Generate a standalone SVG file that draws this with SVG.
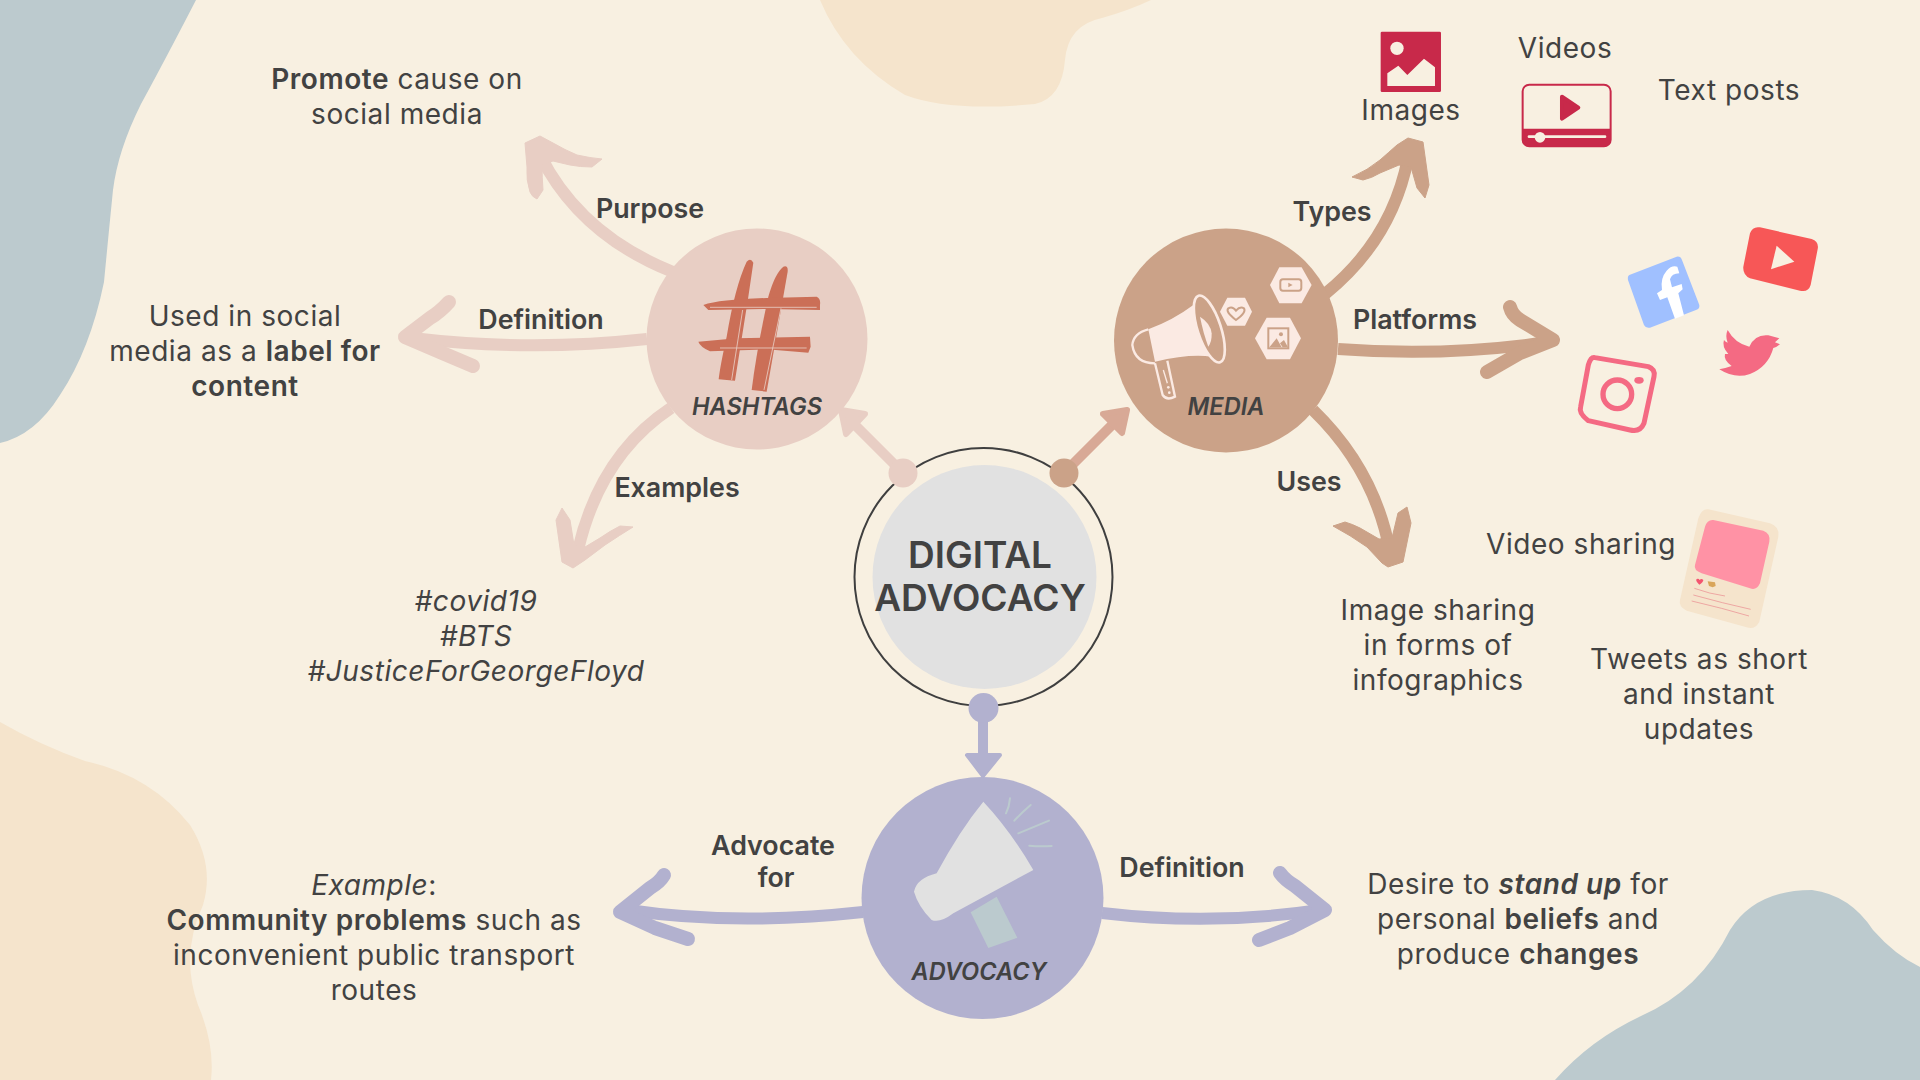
<svg xmlns="http://www.w3.org/2000/svg" width="1920" height="1080" viewBox="0 0 1920 1080">
<style>
text{font-family:"Inter","Noto Sans","Liberation Sans",sans-serif;fill:#424242;text-anchor:middle}
.t{font-size:28px;font-weight:400;letter-spacing:.55px}
.l{font-size:26.8px;font-weight:600}
.b{font-weight:600}
.i{font-style:italic}
.n{font-size:23.6px;font-weight:600;font-style:italic}
.a{fill:none;stroke-width:12;stroke-linecap:butt;stroke-linejoin:round}
.h{fill:none;stroke-width:14;stroke-linecap:round;stroke-linejoin:round}
.pk{stroke:#e8cec4}.br{stroke:#cba288}.pu{stroke:#b2b1cf}
.fpk{fill:#e8cec4;stroke:#e8cec4;stroke-width:1;stroke-linejoin:round}
.fbr{fill:#cba288;stroke:#cba288;stroke-width:1;stroke-linejoin:round}
</style>
<rect width="1920" height="1080" fill="#f8f0e1"/>
<g id="background">
<path d="M0 0H196Q165 60 141 104Q118 150 113 190Q108 240 104 282Q90 350 60 395Q35 435 0 443Z" fill="#bccace"/>
<path d="M820 0Q845 60 905 95Q950 112 1035 104Q1062 98 1065 60Q1068 25 1102 18Q1130 10 1151 0Z" fill="#f5e4cc"/>
<path d="M0 722Q40 745 85 761Q150 775 190 825Q215 865 203 905Q180 955 198 1005Q215 1045 211 1080H0Z" fill="#f5e4cc"/>
<path d="M1555 1080Q1590 1040 1641 1016Q1700 990 1730 930Q1755 890 1812 890Q1850 895 1873 930Q1895 955 1920 967V1080Z" fill="#bccace"/>
</g>
<g id="connectors">
<path class="a pk" d="M673 272Q580 235 540 155"/>
<path class="fpk" d="M525 143L540 136L553 143Q565 150 577 155Q590 158 602 159L592 167Q580 167 570 165L553 161L542 165Q542 178 543 190L537 199Q532 197 530 192Q526 180 527 167Z"/>
<path class="a pk" d="M647 339Q530 352 412 338"/><path class="h pk" d="M449 302Q440 312 430 318L405 337L440 352L473 366"/>
<path class="a pk" d="M671 408Q600 455 578 550"/>
<path class="fpk" d="M633 527L620 526Q610 531 600 538L585 547L574 545L570 520L562 508L556 520L562 562L573 568L585 560L605 545Q620 535 633 527Z"/>
<path d="M903 473L855 425" stroke="#e8cec4" stroke-width="10" fill="none"/>
<path d="M841 410L865 414L846 434Z" fill="#e8cec4" stroke="#e8cec4" stroke-width="6" stroke-linejoin="round"/>
<path class="a br" d="M1325 294Q1392 240 1408 158"/>
<path class="fbr" d="M1352 177L1363 180Q1372 178 1380 173L1399 165L1411 167L1417 188L1425 198L1429 185L1423 142L1408 138L1397 145Q1388 153 1380 160Q1368 170 1352 177Z"/>
<path class="a br" d="M1338 349Q1445 357 1548 342"/><path class="h br" d="M1510 307Q1512 315 1520 320L1553 340L1520 353L1487 372"/>
<path class="a br" d="M1313 410Q1375 470 1390 552"/>
<path class="fbr" d="M1333 526L1345 522Q1352 524 1360 528L1379 539L1392 538L1398 513L1407 507L1411 523L1403 562L1388 567L1382 563L1367 547Q1350 535 1333 526Z"/>
<path d="M1064 473L1112 425" stroke="#d8a996" stroke-width="10" fill="none"/>
<path d="M1127 410L1103 414L1122 433Z" fill="#d8a996" stroke="#d8a996" stroke-width="6" stroke-linejoin="round"/>
<path class="a pu" d="M863 912Q735 926 628 910"/><path class="h pu" d="M664 875Q660 882 650 888L620 912L655 928L688 939"/>
<path class="a pu" d="M1102 913Q1212 926 1320 910"/><path class="h pu" d="M1280 873Q1285 880 1295 886L1325 910L1290 928L1259 940"/>
<path d="M983 708V755" stroke="#b2b1cf" stroke-width="10" fill="none"/>
<path d="M967 755H1000L983 776Z" fill="#b2b1cf" stroke="#b2b1cf" stroke-width="4" stroke-linejoin="round"/>
</g>
<g id="center">
<circle cx="983.500" cy="577" r="129" fill="none" stroke="#3f3f3f" stroke-width="2"/>
<circle cx="984.500" cy="577" r="112" fill="#e1e1e1"/>
<text x="980" y="568" font-size="37" font-weight="600">DIGITAL</text>
<text x="980" y="611" font-size="37" font-weight="600">ADVOCACY</text>
<circle cx="903" cy="473" r="14.500" fill="#e8cec4"/>
<circle cx="1064" cy="473" r="14.500" fill="#cba288"/>
<circle cx="983.500" cy="708" r="15" fill="#b2b1cf"/>
</g>
<g id="hashtags">
<circle cx="757" cy="339" r="110.500" fill="#e8cec4"/>
<g transform="translate(620 210) scale(.3333)" fill="#cb6f57">
<path d="M380 155Q392 142 400 158L385 260L345 512L296 508Q300 470 320 380Q345 230 380 155Z"/>
<path d="M490 170Q505 165 503 185L440 545L395 540Q410 420 445 260Q465 190 490 170Z"/>
<path d="M250 285Q300 268 440 264L590 260Q603 265 600 285L600 300L440 297L265 300Z"/>
<path d="M235 395L350 385L570 380L572 410L565 428L440 418L270 424Q240 410 235 395Z"/>
<path d="M368 300L335 510M483 295L432 540M270 292H590M300 414H560" stroke="#e8cec4" stroke-width="2.500" fill="none"/>
</g>
<text class="n" x="757" y="415">HASHTAGS</text>
</g>
<g id="media">
<circle cx="1226" cy="340.500" r="112" fill="#cba288"/>
<g transform="translate(1080 200) scale(.3333)">
<path d="M205 388Q280 360 340 315Q370 350 385 400Q395 440 395 470Q330 460 225 485Z" fill="#fbeae3"/>
<path d="M205 388Q160 400 157 435Q165 490 225 490" fill="none" stroke="#fbeae3" stroke-width="7"/>
<ellipse cx="388" cy="387" rx="35" ry="105" transform="rotate(-18 388 387)" fill="#cba288" stroke="#fbeae3" stroke-width="8"/>
<path d="M360 350Q392 370 395 400Q396 425 385 440Q370 400 360 350Z" fill="#fbeae3"/>
<path d="M225 490L248 585Q260 603 285 590L262 482" fill="none" stroke="#fbeae3" stroke-width="7"/>
<path d="M250 510L262 550" stroke="#fbeae3" stroke-width="4"/><circle cx="265" cy="562" r="4" fill="#fbeae3"/><circle cx="268" cy="578" r="4" fill="#fbeae3"/>
<g fill="#fbeae3">
<polygon points="570,255 598,202 665,202 695,255 665,310 598,310"/>
<polygon points="420,335 442,293 495,293 516,335 495,377 442,377"/>
<polygon points="525,415 560,353 630,353 663,415 630,478 560,478"/>
</g>
<rect x="601" y="238" width="63" height="34" rx="8" fill="none" stroke="#cba288" stroke-width="6"/>
<path d="M625 248L638 255L625 262Z" fill="#cba288"/>
<path d="M468 360Q435 335 445 325Q458 318 468 332Q480 318 492 325Q500 338 468 360Z" fill="none" stroke="#cba288" stroke-width="6"/>
<rect x="565" y="385" width="60" height="60" fill="none" stroke="#cba288" stroke-width="6"/>
<circle cx="603" cy="403" r="6" fill="#cba288"/><path d="M568 442L590 415L605 442ZM600 430L612 420L624 442H608Z" fill="#cba288"/>
</g>
<text class="n" x="1226" y="415">MEDIA</text>
</g>
<g id="advocacy">
<circle cx="982.500" cy="898" r="121" fill="#b2b1cf"/>
<g transform="translate(840 760) scale(.3333)">
<path d="M430 125Q510 210 580 330L340 460Q300 490 275 480Q235 440 222 395Q230 355 290 340Q360 210 430 125Z" fill="#e1e1e1"/>
<polygon points="392,457 470,410 532,533 445,564" fill="#bbcace"/>
<path d="M498 160Q508 140 510 115M523 182Q545 158 572 135M535 220L627 182M568 257Q600 260 635 258" fill="none" stroke="#bbcace" stroke-width="6" stroke-linecap="round"/>
</g>
<text class="n" x="979" y="980">ADVOCACY</text>
</g>
<g id="icon-images" transform="translate(1330 10) scale(.3333)">
<rect x="152" y="65" width="181" height="181" rx="4" fill="#c8294a"/>
<circle cx="201" cy="115" r="20" fill="#f8f0e1"/>
<polygon points="172,228 172,190 205,167 232,195 282,146 315,172 315,228" fill="#f8f0e1"/>
</g>
<g id="icon-video" transform="translate(1330 10) scale(.3333)">
<rect x="578" y="224" width="264" height="185" rx="20" fill="#f8f0e1" stroke="#c8294a" stroke-width="6"/>
<path d="M578 356H842V390Q842 409 822 409H598Q578 409 578 390Z" fill="#c8294a"/>
<path d="M696 260L745 293L696 326Z" fill="#c8294a" stroke="#c8294a" stroke-width="12" stroke-linejoin="round"/>
<path d="M597 380H825" stroke="#f8f0e1" stroke-width="8" stroke-linecap="round"/>
<circle cx="630" cy="382" r="16" fill="#f8f0e1"/>
</g>
<g id="icon-social" transform="translate(1560 210) scale(.3333)">
<path d="M600 52L755 87Q778 95 773 118L752 225Q745 248 720 242L570 205Q548 195 550 170L570 70Q578 48 600 52Z" fill="#f75757"/>
<polygon points="650,107 703,155 633,178" fill="#f8f0e1"/>
<path d="M208 195L350 140Q362 138 366 150L418 285Q420 297 408 300L270 353Q258 356 252 345L204 210Q202 198 208 195Z" fill="#a0c0ff"/>
<path d="M320 182Q335 165 352 170L358 190Q335 190 330 208L336 232L365 222L368 238L355 250L372 316L345 326L322 262L300 270L291 250L306 240Q300 205 320 182Z" fill="#fff"/>
<path d="M503 360Q525 400 568 410Q585 372 625 376L658 385L645 397L660 403Q650 412 640 414Q625 470 570 492Q525 508 478 478Q495 475 515 468Q490 450 495 432L505 432Q485 410 492 390Q495 395 503 398Q495 378 503 360Z" fill="#f46a83"/>
<path d="M105 443L265 470Q287 478 282 500L252 640Q240 668 210 660L85 632Q55 610 62 590L85 465Q92 440 105 443Z" fill="none" stroke="#f46a83" stroke-width="15" stroke-linejoin="round"/>
<circle cx="172" cy="553" r="43" fill="none" stroke="#f46a83" stroke-width="16"/>
<ellipse cx="237" cy="511" rx="14" ry="10" fill="#f46a83"/>
</g>
<g id="icon-tweet" transform="translate(1660 490) scale(.3333)">
<path d="M145 58L330 100Q360 110 355 140L298 395Q285 420 260 412L80 362Q55 350 60 330L115 85Q125 55 145 58Z" fill="#f5e4cc"/>
<path d="M160 90L310 122Q332 130 328 155L300 280Q290 302 270 295L125 250Q100 240 105 225L135 110Q142 88 160 90Z" fill="#ff92a5"/>
<path d="M118 284Q105 272 110 267Q116 264 119 270Q124 264 130 270Q130 276 118 284Z" fill="#f4546f"/>
<path d="M143 274L165 277L167 288L158 292L147 288Z" fill="#d9a55a"/>
<path d="M103 295Q150 312 195 318M100 315Q190 340 272 358M95 333Q190 355 267 378" fill="none" stroke="#ec9a9a" stroke-width="2.500"/>
</g>
<g id="text-hashtags">
<text class="t" x="397" y="89"><tspan class="b">Promote</tspan> cause on</text>
<text class="t" x="397" y="124">social media</text>
<text class="l" x="650" y="218">Purpose</text>
<text class="l" x="541" y="329">Definition</text>
<text class="t" x="245" y="326">Used in social</text>
<text class="t" x="245" y="361">media as a <tspan class="b">label for</tspan></text>
<text class="t b" x="245" y="396">content</text>
<text class="l" x="677" y="497">Examples</text>
<text class="t i" x="476" y="611">#covid19</text>
<text class="t i" x="476" y="646">#BTS</text>
<text class="t i" x="476" y="681">#JusticeForGeorgeFloyd</text>
</g>
<g id="text-media">
<text class="l" x="1332" y="221">Types</text>
<text class="l" x="1415" y="329">Platforms</text>
<text class="l" x="1309" y="491">Uses</text>
<text class="t" x="1411" y="120">Images</text>
<text class="t" x="1565" y="58">Videos</text>
<text class="t" x="1729" y="100">Text posts</text>
<text class="t" x="1581" y="554">Video sharing</text>
<text class="t" x="1438" y="620">Image sharing</text>
<text class="t" x="1438" y="655">in forms of</text>
<text class="t" x="1438" y="690">infographics</text>
<text class="t" x="1699" y="669">Tweets as short</text>
<text class="t" x="1699" y="704">and instant</text>
<text class="t" x="1699" y="739">updates</text>
</g>
<g id="text-advocacy">
<text class="l" x="773" y="855">Advocate</text>
<text class="l" x="776" y="887">for</text>
<text class="l" x="1182" y="877">Definition</text>
<text class="t" x="374" y="895"><tspan class="i">Example</tspan>:</text>
<text class="t" x="374" y="930"><tspan class="b">Community problems</tspan> such as</text>
<text class="t" x="374" y="965">inconvenient public transport</text>
<text class="t" x="374" y="1000">routes</text>
<text class="t" x="1518" y="894">Desire to <tspan class="b i">stand up</tspan> for</text>
<text class="t" x="1518" y="929">personal <tspan class="b">beliefs</tspan> and</text>
<text class="t" x="1518" y="964">produce <tspan class="b">changes</tspan></text>
</g>
</svg>
